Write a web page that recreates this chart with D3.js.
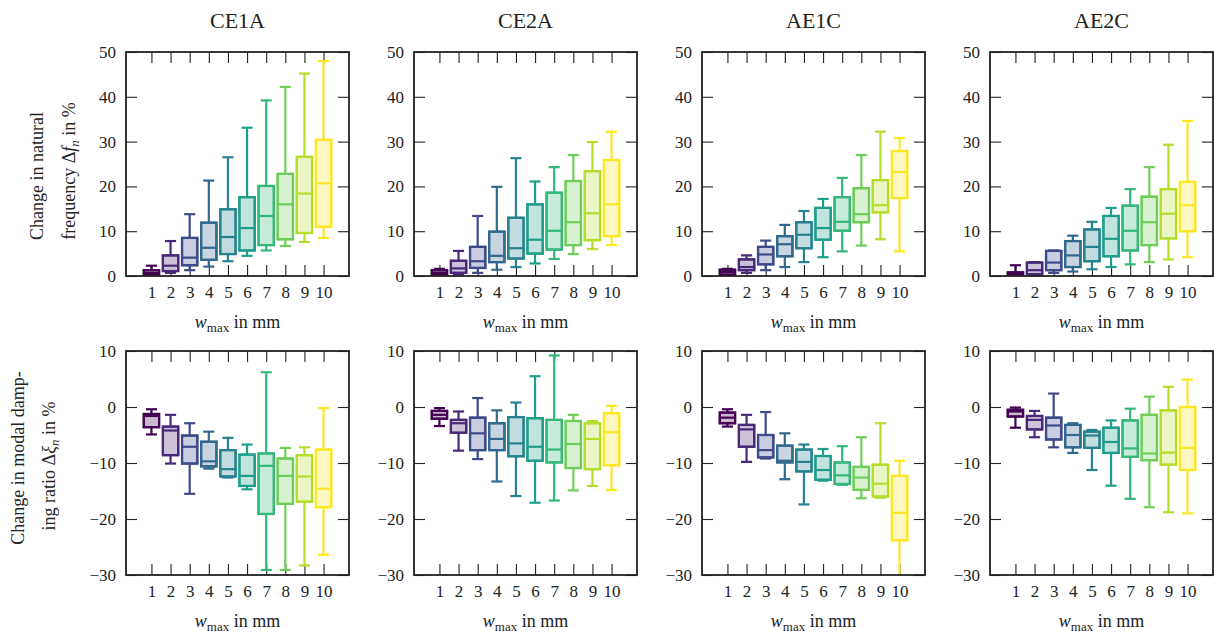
<!DOCTYPE html>
<html>
<head>
<meta charset="utf-8">
<script src="https://cdn.jsdelivr.net/npm/d3@7"></script>
<style>
  body { margin: 0; background: #fff; }
  text { font-family: "Liberation Serif", "DejaVu Serif", serif; fill: #222; }
</style>
</head>
<body>
<svg width="1214" height="635"></svg>
<script>
const wmax = [1, 2, 3, 4, 5, 6, 7, 8, 9, 10];
const titles = ["CE1A", "CE2A", "AE1C", "AE2C"];
const freqTicks = [0, 10, 20, 30, 40, 50];
const dampTicks = [-30, -20, -10, 0, 10];

// each box: [min, q1, median, q3, max]
const freqCE1A = [
  [0.1, 0.3, 0.7, 1.3, 2.3], [0.7, 1.1, 2.3, 4.6, 7.8], [1.3, 2.4, 4.1, 8.5, 13.8],
  [2.1, 3.6, 6.3, 11.9, 21.3], [3.3, 4.9, 8.7, 14.9, 26.5], [4.5, 5.7, 10.7, 17.6, 33.1],
  [5.7, 6.9, 13.4, 20.1, 39.2], [6.7, 8.2, 16.0, 22.8, 42.2], [7.6, 9.6, 18.4, 26.6, 45.2],
  [8.5, 11.0, 20.7, 30.4, 48.0]
];
const freqCE2A = [
  [0.1, 0.3, 0.7, 1.3, 1.6], [0.3, 0.7, 1.7, 3.4, 5.6], [0.7, 1.8, 3.3, 6.5, 13.4],
  [1.4, 3.1, 4.5, 9.9, 19.9], [2.0, 3.9, 6.2, 13.0, 26.3], [2.8, 5.0, 8.1, 16.0, 21.1],
  [3.8, 5.9, 10.1, 18.6, 24.3], [4.9, 6.9, 12.0, 21.2, 27.0], [6.0, 8.0, 14.0, 23.4, 29.9],
  [6.9, 8.9, 16.0, 25.9, 32.2]
];
const freqAE1C = [
  [0.1, 0.3, 0.9, 1.4, 1.6], [0.7, 1.3, 2.0, 3.7, 4.6], [1.3, 2.6, 4.8, 6.5, 7.9],
  [2.0, 4.4, 7.1, 8.9, 11.4], [3.1, 6.2, 9.2, 12.0, 14.5], [4.2, 8.1, 10.7, 15.2, 17.2],
  [5.5, 10.1, 12.1, 17.6, 21.9], [6.8, 12.0, 13.8, 19.6, 27.0], [8.2, 14.2, 15.8, 21.4, 32.2],
  [5.5, 17.4, 23.2, 27.9, 30.8]
];
const freqAE2C = [
  [0.1, 0.2, 0.5, 0.8, 2.4], [0.2, 0.4, 1.3, 3.0, 3.1], [0.7, 1.3, 3.0, 5.6, 5.7],
  [1.0, 2.0, 4.6, 7.8, 9.0], [1.5, 3.3, 6.5, 10.4, 12.1], [2.0, 4.4, 8.3, 13.4, 15.2],
  [2.6, 5.7, 10.1, 15.7, 19.4], [3.1, 6.9, 12.0, 17.7, 24.3], [3.7, 8.4, 13.9, 19.4, 29.3],
  [4.2, 10.0, 15.8, 21.0, 34.6]
];
const dampCE1A = [
  [-4.9, -3.6, -1.6, -1.25, -0.4], [-10.1, -8.6, -4.2, -3.5, -1.4], [-15.5, -10.1, -7.1, -5.1, -2.9],
  [-11.0, -10.6, -9.7, -6.2, -4.4], [-12.6, -12.4, -11.1, -7.7, -5.5], [-14.7, -14.1, -12.3, -8.5, -6.7],
  [-29.1, -19.1, -10.5, -8.3, 6.2], [-29.1, -17.3, -12.3, -9.2, -7.3], [-28.3, -16.9, -12.4, -8.6, -7.2],
  [-26.4, -17.9, -14.6, -7.6, -0.2]
];
const dampCE2A = [
  [-3.4, -2.1, -1.4, -0.7, -0.2], [-7.8, -4.6, -2.9, -2.3, -0.8], [-9.3, -7.7, -4.7, -1.9, 1.6],
  [-13.3, -7.7, -5.7, -2.9, -0.6], [-15.9, -8.8, -6.5, -1.8, 0.8], [-17.1, -9.6, -7.1, -2.0, 5.5],
  [-16.7, -9.9, -7.6, -2.3, 9.2], [-14.9, -10.9, -6.6, -2.5, -1.4], [-14.1, -11.1, -5.7, -2.9, -2.5],
  [-14.8, -10.4, -4.5, -1.1, 0.2]
];
const dampAE1C = [
  [-3.5, -2.9, -1.9, -1.0, -0.4], [-9.8, -7.1, -4.0, -3.2, -1.4], [-9.2, -9.0, -7.7, -5.0, -0.9],
  [-12.9, -9.9, -9.6, -6.9, -4.7], [-17.4, -11.5, -9.8, -7.6, -6.7], [-13.15, -13.0, -11.25, -8.75, -7.5],
  [-13.9, -13.75, -12.2, -9.9, -7.0], [-16.3, -14.8, -12.6, -10.7, -5.4], [-16.2, -16.0, -13.7, -10.3, -2.9],
  [-31, -23.8, -18.9, -12.3, -9.6]
];
const dampAE2C = [
  [-3.7, -1.7, -0.8, -0.5, -0.1], [-5.4, -4.0, -2.3, -1.6, -0.7], [-7.2, -5.8, -3.3, -1.9, 2.4],
  [-8.2, -7.2, -5.0, -3.2, -2.9], [-11.25, -7.3, -5.1, -4.4, -4.1], [-14.05, -8.2, -6.25, -3.7, -2.4],
  [-16.4, -8.9, -7.4, -2.4, -0.3], [-17.9, -9.5, -8.3, -1.4, 1.85], [-18.8, -10.3, -8.15, -0.6, 3.6],
  [-19.0, -11.25, -7.3, 0.0, 4.9]
];

const freqData = [freqCE1A, freqCE2A, freqAE1C, freqAE2C];
const dampData = [dampCE1A, dampCE2A, dampAE1C, dampAE2C];

const svg = d3.select("svg");
const colLeft = [126, 414, 702, 990];
const plotW = 223, plotH = 224;
const rowTop = [52, 351];
const color = d3.scaleSequential(d3.interpolateViridis).domain([1, 10]);
const ink = "#222";

function drawPanel(data, col, row, ticks) {
  const x0 = colLeft[col], y0 = rowTop[row];
  const x = d3.scaleLinear().domain([-0.33, 11.33]).range([x0, x0 + plotW]);
  const y = d3.scaleLinear().domain(d3.extent(ticks)).range([y0 + plotH, y0]);
  const g = svg.append("g");
  const clipId = "clip" + row + col;

  g.append("clipPath").attr("id", clipId)
    .append("rect").attr("x", x0).attr("y", y0).attr("width", plotW).attr("height", plotH);

  // axes, ticks pointing inward on all four sides
  const left = g.append("g").attr("transform", `translate(${x0},0)`)
    .call(d3.axisLeft(y).tickValues(ticks).tickSize(-11).tickPadding(10).tickFormat(d3.format("d")));
  const right = g.append("g").attr("transform", `translate(${x0 + plotW},0)`)
    .call(d3.axisRight(y).tickValues(ticks).tickSize(-11).tickFormat(""));
  const bottom = g.append("g").attr("transform", `translate(0,${y0 + plotH})`)
    .call(d3.axisBottom(x).tickValues(wmax).tickSize(-11).tickPadding(10));
  const top = g.append("g").attr("transform", `translate(0,${y0})`)
    .call(d3.axisTop(x).tickValues(wmax).tickSize(-11).tickFormat(""));
  [left, right, bottom, top].forEach(a => {
    a.select(".domain").remove();
    a.selectAll(".tick line").attr("stroke", ink).attr("stroke-width", 1.1);
    a.selectAll("text").attr("font-size", 17).attr("fill", ink)
      .style("font-family", '"Liberation Serif", serif');
  });

  const step = x(2) - x(1);
  const bw = step * 0.8, cw = step * 0.58;
  const boxes = g.append("g").attr("clip-path", `url(#${clipId})`)
    .selectAll("g").data(data).enter().append("g")
    .attr("stroke", (d, i) => color(wmax[i]))
    .attr("stroke-width", 2.2)
    .attr("fill", "none");

  // whiskers
  boxes.append("line")
    .attr("x1", (d, i) => x(wmax[i])).attr("x2", (d, i) => x(wmax[i]))
    .attr("y1", d => y(d[0])).attr("y2", d => y(d[4]));
  boxes.append("line")
    .attr("x1", (d, i) => x(wmax[i]) - cw / 2).attr("x2", (d, i) => x(wmax[i]) + cw / 2)
    .attr("y1", d => y(d[0])).attr("y2", d => y(d[0]));
  boxes.append("line")
    .attr("x1", (d, i) => x(wmax[i]) - cw / 2).attr("x2", (d, i) => x(wmax[i]) + cw / 2)
    .attr("y1", d => y(d[4])).attr("y2", d => y(d[4]));
  // box
  boxes.append("rect")
    .attr("x", (d, i) => x(wmax[i]) - bw / 2).attr("width", bw)
    .attr("y", d => y(d[3])).attr("height", d => y(d[1]) - y(d[3]))
    .attr("fill", "#fff");
  boxes.append("rect")
    .attr("x", (d, i) => x(wmax[i]) - bw / 2).attr("width", bw)
    .attr("y", d => y(d[3])).attr("height", d => y(d[1]) - y(d[3]))
    .attr("fill", (d, i) => color(wmax[i])).attr("fill-opacity", 0.28);
  // median
  boxes.append("line")
    .attr("x1", (d, i) => x(wmax[i]) - bw / 2).attr("x2", (d, i) => x(wmax[i]) + bw / 2)
    .attr("y1", d => y(d[2])).attr("y2", d => y(d[2]));

  // frame
  g.append("rect").attr("x", x0).attr("y", y0).attr("width", plotW).attr("height", plotH)
    .attr("fill", "none").attr("stroke", ink).attr("stroke-width", 1.8);

  // x axis title
  const xt = g.append("text").attr("x", x0 + plotW / 2).attr("y", y0 + plotH + 52)
    .attr("text-anchor", "middle").attr("font-size", 18);
  xt.append("tspan").attr("font-style", "italic").text("w");
  xt.append("tspan").attr("font-size", 13).attr("dy", 4).text("max");
  xt.append("tspan").attr("dy", -4).text(" in mm");

  if (row === 0) {
    g.append("text").attr("x", x0 + plotW / 2).attr("y", 28)
      .attr("text-anchor", "middle").attr("font-size", 22).text(titles[col]);
  }
}

freqData.forEach((d, i) => drawPanel(d, i, 0, freqTicks));
dampData.forEach((d, i) => drawPanel(d, i, 1, dampTicks));

// y axis titles (two lines each)
function yTitle(cx, cy, parts) {
  const t = svg.append("text").attr("transform", `translate(${cx},${cy}) rotate(-90)`)
    .attr("text-anchor", "middle").attr("font-size", 18);
  parts.forEach(p => {
    const s = t.append("tspan").text(p.t);
    if (p.it) s.attr("font-style", "italic");
    if (p.sub) s.attr("font-size", 13).attr("dy", 4);
    if (p.up) s.attr("dy", -4);
  });
}
yTitle(43, 176, [{ t: "Change in natural" }]);
yTitle(75, 171, [{ t: "frequency Δ" }, { t: "f", it: true }, { t: "n", it: true, sub: true }, { t: " in %", up: true }]);
yTitle(24, 458, [{ t: "Change in modal damp-" }]);
yTitle(55, 466, [{ t: "ing ratio Δ" }, { t: "ξ", it: true }, { t: "n", it: true, sub: true }, { t: " in %", up: true }]);
</script>
</body>
</html>
